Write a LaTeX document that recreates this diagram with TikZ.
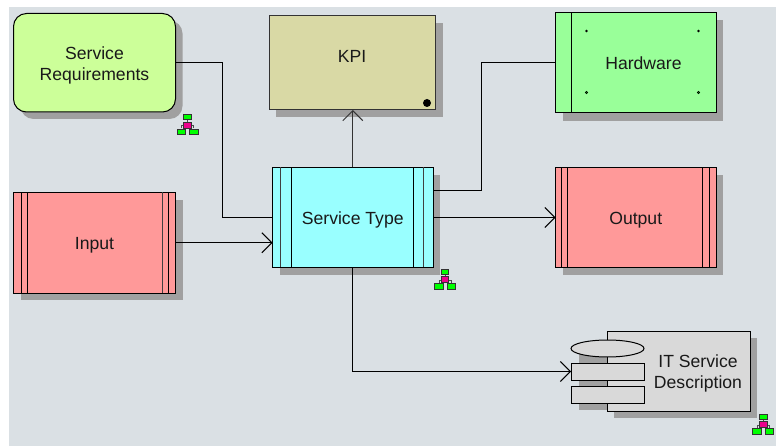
\documentclass[tikz,border=0pt]{standalone}
\usepackage{fontspec}
\setmainfont{Liberation Sans}
\usetikzlibrary{arrows.meta,calc}
\definecolor{bgc}{HTML}{DAE0E4}
\definecolor{shc}{HTML}{A0A0A0}
\definecolor{symc}{HTML}{D9D9D9}
\newcommand{\lowered}[1]{\raisebox{-6.6pt}[0pt][0pt]{#1}}
\tikzset{
  box/.style={draw=black,line width=1pt,rectangle,inner sep=0pt,outer sep=0pt,font=\fontsize{17.6}{21}\selectfont,text=black!90},
  caption/.style={font=\fontsize{17.6}{21}\selectfont,text=black!90,align=center},
  symbox/.style={draw=black,line width=1pt,fill=symc,shape=rectangle,minimum width=73pt,minimum height=17pt,inner sep=0pt,outer sep=0pt},
  flow/.style={draw=black,line width=1pt},
  arr/.style={flow,-{Straight Barb[length=10pt,width=20pt,line width=1pt]}},
  stripe/.style={draw=black!75,line width=1pt}
}
\newcommand{\orgicon}[2]{% x center, y top
  \begin{scope}[shift={(#1,#2)},line width=.8pt]
    \draw[black!70] (0,5) -- (0,8) (-6,14) -- (-6,11) -- (6,11) -- (6,14);
    \filldraw[fill=green,draw=black!80] (-3.8,0) rectangle (3.8,5);
    \filldraw[fill=magenta,draw=black!80] (-3.8,7.5) rectangle (3.8,13.5);
    \filldraw[fill=green,draw=black!80] (-10.5,14.5) rectangle (-2,20);
    \filldraw[fill=green,draw=black!80] (2,14.5) rectangle (10.5,20);
  \end{scope}}
\begin{document}
\begin{tikzpicture}[x=1pt,y=-1pt]
\useasboundingbox (0,0) rectangle (776,446);
\fill[bgc] (9,7) rectangle (776,446);
% shadows
\fill[shc,rounded corners=13pt] (20.5,20.5) rectangle (182.5,119);
\fill[shc] (276,23) rectangle (442.5,117);
\fill[shc] (279.5,175) rectangle (440,275.5);
\fill[shc] (562.5,20) rectangle (723,121);
\fill[shc] (562.5,175) rectangle (723,275);
\fill[shc] (20.5,200) rectangle (182.5,300);
\fill[shc] (614,338) rectangle (757,418);
\fill[shc] (579,345) rectangle (620,410);
% nodes
\node[box,fill={rgb,255:red,204;green,255;blue,153},rounded corners=13pt,minimum width=162pt,minimum height=98.5pt] (sr) at (94.5,62.75) {};
\node[caption] (srt) at (94.5,65) {Service\\[0pt]Requirements};
\node[box,draw=black!80,fill={rgb,255:red,217;green,217;blue,165},minimum width=166pt,minimum height=94pt] (kpi) at (352,63) {};
\node[caption] (kpit) at (352,56.5) {KPI};
\node[box,fill={rgb,255:red,153;green,255;blue,255},minimum width=160.5pt,minimum height=100pt] (st) at (352.75,217.5) {\lowered{Service Type}};
\node[box,fill={rgb,255:red,153;green,255;blue,153},minimum width=160.5pt,minimum height=100.5pt] (hw) at (635.75,62.75) {\hspace*{15.5pt}\lowered{Hardware}};
\node[box,fill={rgb,255:red,255;green,153;blue,153},minimum width=160.5pt,minimum height=100pt] (out) at (635.75,217.5) {\lowered{Output}};
\node[box,fill={rgb,255:red,255;green,153;blue,153},minimum width=162pt,minimum height=100.5pt] (in) at (94.5,242.75) {\lowered{Input}};
\node[box,fill=symc,minimum width=143pt,minimum height=80.5pt] (it) at (678.5,371.25) {};
\node[caption] (itt) at (698,373) {IT Service\\[0pt]Description};
% symbols
\node[symbox] (r1) at (607.5,371.5) {};
\node[symbox] (r2) at (607.5,394.5) {};
\filldraw[draw=black,line width=1pt,fill=symc] (607.5,348.5) ellipse (36.5pt and 8.5pt);
% stripes
\draw[stripe] (280.8,167.5) -- (280.8,267.5) (423.3,167.5) -- (423.3,267.5);
\draw[flow] (291.3,167.5) -- (291.3,267.5) (413.3,167.5) -- (413.3,267.5);
\draw[flow] (571,12.5) -- (571,113);
\draw[flow] (21.3,192.5) -- (21.3,293) (27.5,192.5) -- (27.5,293);
\draw[stripe] (162,192.5) -- (162,293);
\draw[flow] (168,192.5) -- (168,293);
\draw[flow] (561.5,167.5) -- (561.5,267.5) (567.5,167.5) -- (567.5,267.5);
\draw[flow] (702.5,167.5) -- (702.5,267.5) (709,167.5) -- (709,267.5);
% decorations
\fill (427,103) circle (4pt);
\fill (586.5,31) circle (1.3pt) (698.5,31) circle (1.3pt);
\filldraw[fill=green!60!black,draw=black,line width=.6pt] (586.5,92.5) circle (1.2pt) (698.5,92.5) circle (1.2pt);
% connectors
\draw[arr] (in.east) -- (in.east -| st.west);
\draw[flow] (sr.east) -- (222.5,62.75) |- (st.west);
\draw[arr,draw=black!80] (st.north) -- (st.north |- kpi.south);
\draw[flow] ($(st.east)+(0,-26.5)$) -- (481.5,191) -- (481.5,62.75) -- (hw.west);
\draw[arr] (st.east) -- (out.west);
\draw[arr] (st.south) |- (r1.west);
% icons
\orgicon{187.5}{114.5}
\orgicon{445}{269}
\orgicon{763.3}{414}
\end{tikzpicture}
\end{document}
